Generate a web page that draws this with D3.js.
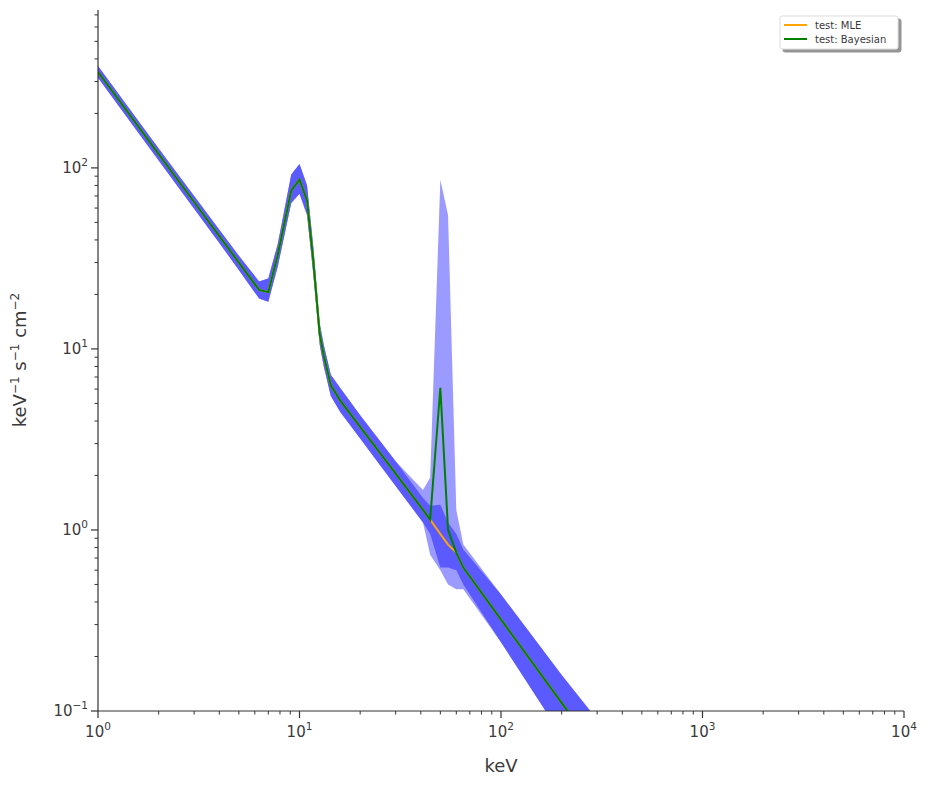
<!DOCTYPE html>
<html><head><meta charset="utf-8">
<script src="https://cdn.jsdelivr.net/npm/d3@7"></script>
<style>body{margin:0;background:#fff}text{font-family:"DejaVu Sans",sans-serif;fill:#3a3a3a}</style>
</head><body><svg id="c" width="928" height="786"></svg>
<script>
const energy=[1,2,3,4,5,6.3,7,7.8,9.1,10,10.9,11.7,12.6,13.2,14.3,15.9,20,30,41,44.5,50,54.6,60,65,100,200,400];
const mle  =[339,119,64.8,42,30,21.2,20.6,33,75,86,66,31,12,9.2,6.3,5.2,3.71,2.05,1.29,1.14,0.95,0.83,0.75,0.62,0.32,0.111,0.0385];
const mleLo=[315,110,59.5,38.5,27.3,19,18.2,28.5,64,72,55,26,10.5,8,5.5,4.5,3.2,1.75,1.1,0.95,0.62,0.62,0.6,0.5,0.24,0.073,0.023];
const mleHi=[365,128,70,45.5,32.7,23.6,24.5,38,92,105,80,37,13.8,10.5,7.2,6.1,4.3,2.4,1.5,1.36,1.38,1.1,0.95,0.78,0.44,0.158,0.06];
const bay  =[339,119,64.8,42,30,21.2,20.6,33,75,86,66,31,12,9.2,6.3,5.2,3.71,2.05,1.29,1.14,6.1,1.0,0.75,0.62,0.32,0.111,0.0385];
const bayLo=[315,110,59.5,38.5,27.3,19,18.2,28.5,64,72,55,26,10.5,8,5.5,4.5,3.2,1.75,1.1,0.73,0.6,0.5,0.47,0.47,0.24,0.073,0.023];
const bayHi=[365,128,70,45.5,32.7,23.6,24.5,38,92,105,80,37,13.8,10.5,7.2,6.1,4.3,2.4,1.66,1.94,86,55,1.29,0.83,0.44,0.158,0.06];
const xTicks=[1,10,100,1000,10000];
const yTicks=[0.1,1,10,100];
const series=[{name:"test: MLE",color:"orange"},{name:"test: Bayesian",color:"green"}];

const svg=d3.select("#c");
const L=98,R=904,T=10,B=711;
const x=d3.scaleLog().domain([1,1e4]).range([L,R]);
const y=d3.scaleLog().domain([0.1,745]).range([B,T]);
const defs=svg.append("defs");
defs.append("clipPath").attr("id","clip").append("rect").attr("x",L).attr("y",T).attr("width",R-L).attr("height",B-T);
defs.append("filter").attr("id","sh").append("feDropShadow").attr("dx",3).attr("dy",3).attr("stdDeviation",0.5).attr("flood-color","#888").attr("flood-opacity",0.9);
const g=svg.append("g").attr("clip-path","url(#clip)");
const idx=d3.range(energy.length);
const area=(lo,hi)=>d3.area().x(i=>x(energy[i])).y0(i=>y(lo[i])).y1(i=>y(hi[i]));
const line=v=>d3.line().x(i=>x(energy[i])).y(i=>y(v[i]));
g.append("path").attr("d",area(bayLo,bayHi)(idx)).attr("fill","#9b9bff");
g.append("path").attr("d",area(mleLo,mleHi)(idx)).attr("fill","#5a5aff");
g.append("path").attr("d",line(mle)(idx)).attr("fill","none").attr("stroke","orange").attr("stroke-width",2);
g.append("path").attr("d",line(bay)(idx)).attr("fill","none").attr("stroke","green").attr("stroke-width",2);

const fmt=v=>Math.round(Math.log10(v));
const xa=svg.append("g");
xa.append("line").attr("x1",L).attr("x2",R).attr("y1",B).attr("y2",B).attr("stroke","#333").attr("stroke-width",1.2);
for(let d=0;d<4;d++)for(let k=2;k<10;k++){const px=x(Math.pow(10,d)*k);xa.append("line").attr("x1",px).attr("x2",px).attr("y1",B).attr("y2",B+3.5).attr("stroke","#333");}
xTicks.forEach(v=>{const px=x(v);xa.append("line").attr("x1",px).attr("x2",px).attr("y1",B).attr("y2",B+7).attr("stroke","#333").attr("stroke-width",1.2);
 const t=xa.append("text").attr("x",px).attr("y",B+26).attr("text-anchor","middle").attr("font-size",15);
 t.append("tspan").text("10");t.append("tspan").attr("dy",-7).attr("font-size",10.5).text(fmt(v));});
svg.append("text").attr("x",(L+R)/2).attr("y",772).attr("text-anchor","middle").attr("font-size",18).text("keV");
const ya=svg.append("g");
ya.append("line").attr("x1",L).attr("x2",L).attr("y1",T).attr("y2",B).attr("stroke","#333").attr("stroke-width",1.2);
for(let d=-1;d<3;d++)for(let k=2;k<10;k++){const v=Math.pow(10,d)*k;if(v>745)continue;const py=y(v);ya.append("line").attr("x1",L-3.5).attr("x2",L).attr("y1",py).attr("y2",py).attr("stroke","#333");}
yTicks.forEach(v=>{const py=y(v);ya.append("line").attr("x1",L-7).attr("x2",L).attr("y1",py).attr("y2",py).attr("stroke","#333").attr("stroke-width",1.2);
 const t=ya.append("text").attr("x",L-10).attr("y",py+5).attr("text-anchor","end").attr("font-size",15);
 t.append("tspan").text("10");t.append("tspan").attr("dy",-7).attr("font-size",10.5).text(fmt(v)<0?"\u22121":fmt(v));});
svg.append("text").attr("transform","translate(26,360) rotate(-90)").attr("text-anchor","middle").attr("font-size",18)
 .html('keV<tspan dy="-7" font-size="12">\u22121</tspan><tspan dy="7"> s</tspan><tspan dy="-7" font-size="12">\u22121</tspan><tspan dy="7"> cm</tspan><tspan dy="-7" font-size="12">\u22122</tspan>');
const lg=svg.append("g").attr("transform","translate(780,16)");
lg.append("rect").attr("width",118).attr("height",33).attr("rx",2).attr("fill","#fff").attr("stroke","#ddd").attr("filter","url(#sh)");
series.forEach((s,i)=>{const yy=9+i*14;lg.append("line").attr("x1",4).attr("x2",27).attr("y1",yy).attr("y2",yy).attr("stroke",s.color).attr("stroke-width",2);
 lg.append("text").attr("x",35).attr("y",yy+3.5).attr("font-size",10).text(s.name);});
</script></body></html>
